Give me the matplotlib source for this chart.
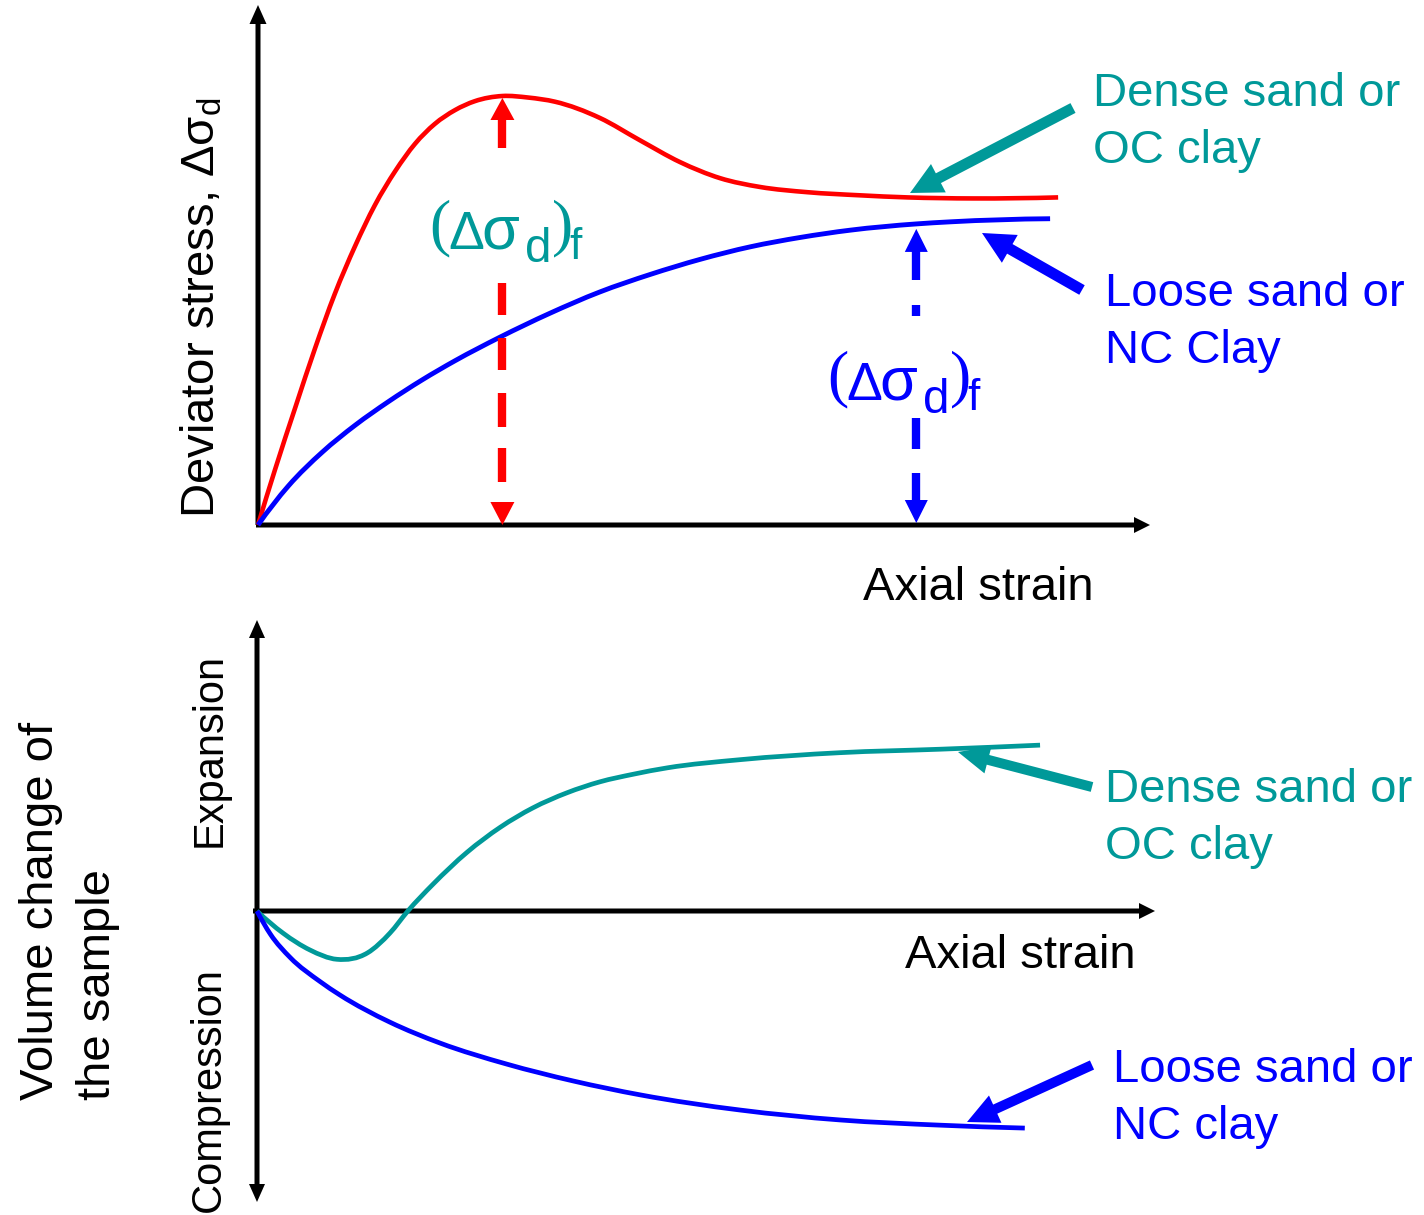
import numpy as np
import matplotlib
matplotlib.use("Agg")
import matplotlib.pyplot as plt
from matplotlib.path import Path
from matplotlib.patches import PathPatch, FancyArrow, Polygon
from matplotlib.textpath import TextPath
from matplotlib.font_manager import FontProperties

# ---------------------------------------------------------------------------
# Data (arbitrary units: strain 0-10, stress 0-10, volume change -5..5)
# ---------------------------------------------------------------------------
# Stress-strain: dense sand / OC clay (peak then softening)
strain_dense = [0.00, 0.19, 0.42, 0.64, 0.86, 1.09, 1.31, 1.54, 1.76, 1.98, 2.21,
                2.43, 2.74, 3.03, 3.33, 3.83, 4.28, 4.73, 5.18, 5.63, 6.16, 6.75,
                7.28, 8.02, 8.97]
stress_dense = [0.00, 1.06, 2.27, 3.40, 4.44, 5.37, 6.15, 6.81, 7.33, 7.71, 7.98,
                8.15, 8.25, 8.22, 8.14, 7.83, 7.40, 6.98, 6.67, 6.50, 6.40, 6.34,
                6.30, 6.28, 6.30]

# Stress-strain: loose sand / NC clay (monotonic hardening)
strain_loose = [0.00, 0.34, 0.72, 1.09, 1.46, 1.84, 2.21, 2.71, 3.27, 3.83, 4.40,
                4.96, 5.52, 6.08, 6.64, 7.38, 7.76, 8.88]
stress_loose = [0.00, 0.75, 1.40, 1.92, 2.37, 2.79, 3.16, 3.61, 4.07, 4.48, 4.82,
                5.11, 5.35, 5.53, 5.67, 5.79, 5.83, 5.89]
loose_fail_index = 15

# Volume change: dense sand / OC clay (compression then dilation)
vstrain_dense = [0.00, 0.29, 0.59, 0.89, 1.23, 1.48, 1.68, 1.96, 2.34, 2.71, 3.07,
                 3.45, 3.82, 4.19, 4.57, 5.38, 6.49, 7.61, 8.72]
vchange_dense = [0.00, -0.38, -0.67, -0.83, -0.72, -0.38, 0.00, 0.46, 1.01, 1.44,
                 1.77, 2.03, 2.22, 2.35, 2.46, 2.60, 2.72, 2.78, 2.85]

# Volume change: loose sand / NC clay (contraction)
vstrain_loose = [0.00, 0.15, 0.37, 0.70, 0.92, 1.48, 2.04, 2.78, 3.52, 4.27, 5.38,
                 6.49, 7.61, 8.55]
vchange_loose = [0.00, -0.40, -0.80, -1.21, -1.44, -1.91, -2.27, -2.63, -2.92,
                 -3.16, -3.42, -3.59, -3.68, -3.73]

# Text
label_dense_top = ["Dense sand or", "OC clay"]
label_loose_top = ["Loose sand or", "NC Clay"]
label_dense_bot = ["Dense sand or", "OC clay"]
label_loose_bot = ["Loose sand or", "NC clay"]
xlabel = "Axial strain"
ylabel_top = r"Deviator stress, $\mathsf{\Delta\sigma_d}$"
ylabel_bot = ["Volume change of", "the sample"]
ylabel_up = "Expansion"
ylabel_down = "Compression"

# ---------------------------------------------------------------------------
RED = "#FF0000"
BLUE = "#0000FF"
TEAL = "#009999"
W, H, DPI = 1424, 1215, 100
FS = 34
SANS = "Liberation Sans"
SERIF = "Liberation Serif"

plt.rcParams["font.family"] = [SANS, "DejaVu Sans"]
plt.rcParams["mathtext.fontset"] = "custom"
plt.rcParams["mathtext.rm"] = SANS
plt.rcParams["mathtext.sf"] = SANS
plt.rcParams["mathtext.it"] = SANS + ":italic"

fig = plt.figure(figsize=(W / DPI, H / DPI), dpi=DPI)
fig.patch.set_facecolor("white")


def rect(left, top, right, bottom):
    return [left / W, 1 - bottom / H, (right - left) / W, (bottom - top) / H]


def overlay(z):
    a = fig.add_axes([0, 0, 1, 1], zorder=z)
    a.set_xlim(0, W)
    a.set_ylim(H, 0)
    a.axis("off")
    a.patch.set_alpha(0)
    return a


back = overlay(0)

ax1 = fig.add_axes(rect(258, 5, 1150, 525), zorder=1)
ax1.set_xlim(0, 10)
ax1.set_ylim(0, 10)
ax1.axis("off")
ax1.patch.set_alpha(0)

ax2 = fig.add_axes(rect(257, 620, 1155, 1202), zorder=1)
ax2.set_xlim(0, 10)
ax2.set_ylim(-5, 5)
ax2.axis("off")
ax2.patch.set_alpha(0)

front = overlay(3)


def to_px(ax, x, y):
    dx, dy = ax.transData.transform((x, y))
    return dx, H - dy


def bessel_slopes(x, y):
    """Three-point tangents on a non-uniform grid."""
    h = np.diff(x)
    d = np.diff(y) / h
    m = np.empty_like(y)
    m[1:-1] = (h[1:] * d[:-1] + h[:-1] * d[1:]) / (h[:-1] + h[1:])
    m[0] = ((2 * h[0] + h[1]) * d[0] - h[0] * d[1]) / (h[0] + h[1])
    m[-1] = ((2 * h[-1] + h[-2]) * d[-1] - h[-1] * d[-2]) / (h[-1] + h[-2])
    return m


def smooth_curve(ax, xs, ys, color, lw):
    x = np.asarray(xs, float)
    y = np.asarray(ys, float)
    m = bessel_slopes(x, y)
    verts, codes = [(x[0], y[0])], [Path.MOVETO]
    for i in range(len(x) - 1):
        h = x[i + 1] - x[i]
        verts += [(x[i] + h / 3, y[i] + m[i] * h / 3),
                  (x[i + 1] - h / 3, y[i + 1] - m[i + 1] * h / 3),
                  (x[i + 1], y[i + 1])]
        codes += [Path.CURVE4] * 3
    ax.add_patch(PathPatch(Path(verts, codes), fill=False, edgecolor=color,
                           lw=lw, capstyle="butt", joinstyle="round",
                           clip_on=False))


def arrow(ax, x0, y0, x1, y1, color, width, hw, hl):
    ax.add_patch(FancyArrow(x0, y0, x1 - x0, y1 - y0, width=width,
                            head_width=hw, head_length=hl,
                            length_includes_head=True, color=color, lw=0))


# --- axes with arrowheads ---------------------------------------------------
ox, oy = to_px(ax1, 0, 0)
_, ty = to_px(ax1, 0, 10)
tx, _ = to_px(ax1, 10, 0)
arrow(back, ox, oy, ox, ty, "black", 5, 17, 19)
arrow(back, ox - 2, oy, tx, oy, "black", 5, 16, 16)

bx, by = to_px(ax2, 0, 0)
_, btop = to_px(ax2, 0, 5)
_, bbot = to_px(ax2, 0, -5)
brx, _ = to_px(ax2, 10, 0)
arrow(back, bx, by, bx, btop, "black", 5, 16, 18)
arrow(back, bx, by, bx, bbot, "black", 5, 16, 18)
arrow(back, bx - 4, by, brx, by, "black", 5, 16, 16)

# --- curves -----------------------------------------------------------------
smooth_curve(ax1, strain_dense, stress_dense, RED, 3.3)
smooth_curve(ax1, strain_loose, stress_loose, BLUE, 3.5)
smooth_curve(ax2, vstrain_dense, vchange_dense, TEAL, 3.4)
smooth_curve(ax2, vstrain_loose, vchange_loose, BLUE, 3.4)


# --- failure-stress markers -------------------------------------------------
def head(ax, x, ytip, direction, color, w, l):
    ax.add_patch(Polygon([(x, ytip), (x - w / 2, ytip + direction * l),
                          (x + w / 2, ytip + direction * l)], closed=True,
                         color=color, lw=0))


def bar(ax, x, ya, yb, color):
    ax.plot([x, x], [ya, yb], color=color, lw=6, solid_capstyle="butt")


def glyph(ax, s, family, left, top, height, color):
    """Place one glyph so that its ink box starts at (left, top)."""
    fp = FontProperties(family=family)
    ext = TextPath((0, 0), s, size=100, prop=fp).get_extents()
    k = height / ext.height
    ax.text(left - ext.x0 * k, top + ext.y1 * k, s, family=family,
            fontsize=100 * k * 72 / DPI, color=color, ha="left",
            va="baseline")


def sigma_label(ax, x, y, color):
    pieces = [("(", SERIF, 0, 0, 58),
              ("\u0394", SANS, 18, 13, 37),
              ("\u03c3", SANS, 52, 17, 33),
              ("d", SANS, 95, 28, 35),
              (")", SERIF, 122, 0, 58),
              ("f", SANS, 138, 28, 32)]
    for s, fam, dx, dy, hgt in pieces:
        glyph(ax, s, fam, x + dx, y + dy, hgt, color)


# dense: peak strength
ipk = int(np.argmax(stress_dense))
px, ptop = to_px(ax1, strain_dense[ipk], stress_dense[ipk])
_, pbot = to_px(ax1, strain_dense[ipk], 0)
ptop += 2
head(front, px, ptop, 1, RED, 24, 22)
bar(front, px, ptop + 21, ptop + 50, RED)
for a, b in [(43, 77), (98, 132), (155, 187), (210, 242)]:
    bar(front, px, pbot - a, pbot - b, RED)
head(front, px, pbot, -1, RED, 24, 23)
sigma_label(front, px - 70, 199, TEAL)

# loose: ultimate strength
fx, ftop = to_px(ax1, strain_loose[loose_fail_index],
                 stress_loose[loose_fail_index])
_, fbot = to_px(ax1, strain_loose[loose_fail_index], 0)
ftop += 5
fbot -= 2
head(front, fx, ftop, 1, BLUE, 23, 23)
bar(front, fx, ftop + 22, ftop + 51, BLUE)
bar(front, fx, ftop + 76, ftop + 87, BLUE)
for a, b in [(23, 50), (74, 105)]:
    bar(front, fx, fbot - a, fbot - b, BLUE)
head(front, fx, fbot, -1, BLUE, 23, 23)
sigma_label(front, fx - 86, 350, BLUE)

# --- pointer arrows ---------------------------------------------------------
arrow(front, 1073, 108, 910, 193, TEAL, 11, 32, 32)
arrow(front, 1082, 290, 982, 233, BLUE, 11, 32, 32)
arrow(front, 1092, 787, 958, 752, TEAL, 10, 28, 31)
arrow(front, 1092, 1065, 967, 1122, BLUE, 10, 30, 31)


# --- text -------------------------------------------------------------------
def two_lines(ax, x, y, lines, color):
    for k, s in enumerate(lines):
        ax.text(x, y + 57 * k, s, color=color, fontsize=FS, ha="left",
                va="baseline")


two_lines(back, 1093, 106, label_dense_top, TEAL)
two_lines(back, 1105, 306, label_loose_top, BLUE)
two_lines(back, 1105, 802, label_dense_bot, TEAL)
two_lines(back, 1113, 1082, label_loose_bot, BLUE)

back.text(863, 600, xlabel, fontsize=FS, ha="left", va="baseline")
back.text(905, 968, xlabel, fontsize=FS, ha="left", va="baseline")

back.text(215, 518, ylabel_top, fontsize=FS, rotation=90,
          rotation_mode="anchor", ha="left", va="baseline")
back.text(221, 750, ylabel_up, fontsize=30, rotation=90,
          rotation_mode="anchor", ha="center", va="baseline")
back.text(220, 1089, ylabel_down, fontsize=30, rotation=90,
          rotation_mode="anchor", ha="center", va="baseline")
back.text(53, 1100, ylabel_bot[0], fontsize=FS, rotation=90,
          rotation_mode="anchor", ha="left", va="baseline")
back.text(110, 1100, ylabel_bot[1], fontsize=FS, rotation=90,
          rotation_mode="anchor", ha="left", va="baseline")

fig.savefig("out.png", dpi=DPI, facecolor="white")
